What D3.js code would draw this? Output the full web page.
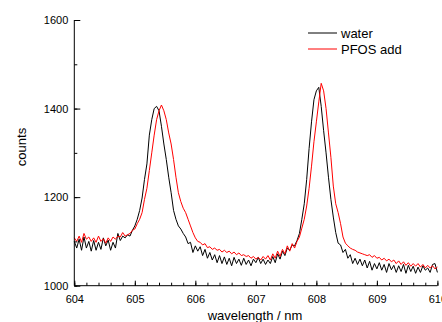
<!DOCTYPE html>
<html><head><meta charset="utf-8">
<script src="https://cdn.jsdelivr.net/npm/d3@7"></script>
<style>body{margin:0;background:#fff}svg{display:block}text{font-family:"Liberation Sans",Arial,sans-serif}</style>
</head><body>
<svg id="c" width="442" height="322"></svg>
<script>
const wlStart = 604, wlStep = 0.04;
const water = [1100,1085,1105,1080,1110,1085,1100,1078,1102,1080,1098,1082,1108,1090,1103,1080,1098,1085,1118,1102,
1112,1108,1115,1112,1125,1135,1150,1170,1198,1240,1275,1340,1375,1400,1405,1395,1360,1320,1285,1245,
1210,1170,1150,1135,1128,1118,1110,1095,1098,1075,1090,1078,1088,1068,1082,1062,1075,1058,1070,1052,
1068,1050,1065,1048,1062,1045,1064,1050,1060,1046,1062,1048,1058,1045,1060,1052,1064,1050,1060,1048,
1058,1050,1066,1052,1072,1060,1078,1068,1085,1080,1092,1090,1102,1118,1150,1185,1240,1310,1370,1420,
1440,1448,1405,1350,1300,1245,1195,1155,1120,1096,1092,1075,1082,1062,1070,1050,1062,1048,1060,1045,
1058,1040,1055,1035,1050,1038,1052,1035,1048,1030,1050,1036,1046,1030,1045,1032,1048,1028,1046,1032,
1044,1028,1042,1030,1045,1035,1040,1030,1048,1050,1030];
const pfos = [1108,1100,1112,1098,1118,1105,1110,1100,1108,1098,1112,1100,1106,1096,1108,1100,1110,1105,1112,1110,
1120,1112,1115,1118,1125,1128,1140,1150,1165,1195,1220,1260,1300,1340,1375,1395,1408,1395,1375,1345,
1320,1285,1245,1210,1190,1175,1165,1150,1135,1120,1108,1100,1098,1092,1095,1086,1088,1082,1085,1080,
1082,1076,1080,1075,1078,1072,1076,1070,1074,1068,1070,1066,1068,1062,1066,1060,1064,1058,1066,1060,
1068,1058,1072,1062,1078,1066,1082,1072,1090,1078,1095,1085,1100,1110,1130,1150,1180,1220,1270,1325,
1370,1415,1457,1440,1400,1345,1290,1225,1185,1165,1140,1110,1096,1090,1085,1082,1080,1076,1074,1072,
1070,1068,1070,1064,1068,1062,1064,1058,1062,1056,1060,1054,1058,1050,1056,1048,1054,1046,1052,1044,
1050,1044,1050,1042,1048,1040,1046,1040,1045,1038,1042];
const xTicks = [604,605,606,607,608,609,610];
const yTicks = [1000,1200,1400,1600];
const seriesNames = ["water","PFOS add"];
const seriesColors = ["#000000","#ff0000"];

const svg = d3.select("#c");
const x = d3.scaleLinear().domain([604,610]).range([74.3,437.4]);
const y = d3.scaleLinear().domain([1000,1600]).range([285.7,20]);

const line = d3.line().x((d,i)=>x(wlStart+i*wlStep)).y(d=>y(d));
[water,pfos].forEach((s,k)=>{
  svg.append("path").attr("d",line(s)).attr("fill","none")
    .attr("stroke",seriesColors[k]).attr("stroke-width",1).attr("stroke-linejoin","round");
});

// axes (inward ticks)
const xMinor = d3.range(604,610.001,0.2);
const yMinor = d3.range(1000,1600.1,100);
const gx = svg.append("g").attr("transform",`translate(0,${y(1000)})`);
gx.call(d3.axisBottom(x).tickValues(xMinor).tickSize(-3).tickFormat(""));
gx.call(g=>g.select(".domain").remove());
const gx2 = svg.append("g").attr("transform",`translate(0,${y(1000)})`);
gx2.call(d3.axisBottom(x).tickValues(xTicks).tickSize(-5).tickPadding(10).tickFormat(d3.format("d")));
gx2.select(".domain").attr("d",`M${x(604)},0H${x(610)}`);
gx2.selectAll("text").attr("font-size",11).attr("fill","#000");

const gy = svg.append("g").attr("transform",`translate(${x(604)},0)`);
gy.call(d3.axisLeft(y).tickValues(yMinor).tickSize(-3).tickFormat(""));
gy.call(g=>g.select(".domain").remove());
const gy2 = svg.append("g").attr("transform",`translate(${x(604)},0)`);
gy2.call(d3.axisLeft(y).tickValues(yTicks).tickSize(-6).tickPadding(6).tickFormat(d3.format("d")));
gy2.select(".domain").attr("d",`M0,${y(1000)}V${y(1600)}`);
gy2.selectAll("text").attr("font-size",11).attr("fill","#000");
svg.selectAll(".tick line").attr("stroke","#000");

svg.append("text").attr("transform","translate(26,147) rotate(-90)").attr("text-anchor","middle")
  .attr("font-size",13).text("counts");
svg.append("text").attr("x",255).attr("y",320).attr("text-anchor","middle")
  .attr("font-size",13).text("wavelength / nm");

seriesNames.forEach((n,k)=>{
  const yy = 33 + k*16;
  svg.append("line").attr("x1",308).attr("x2",337).attr("y1",yy).attr("y2",yy)
    .attr("stroke",seriesColors[k]).attr("stroke-width",1);
  svg.append("text").attr("x",341).attr("y",yy+4.5).attr("font-size",13).text(n);
});
</script>
</body></html>
